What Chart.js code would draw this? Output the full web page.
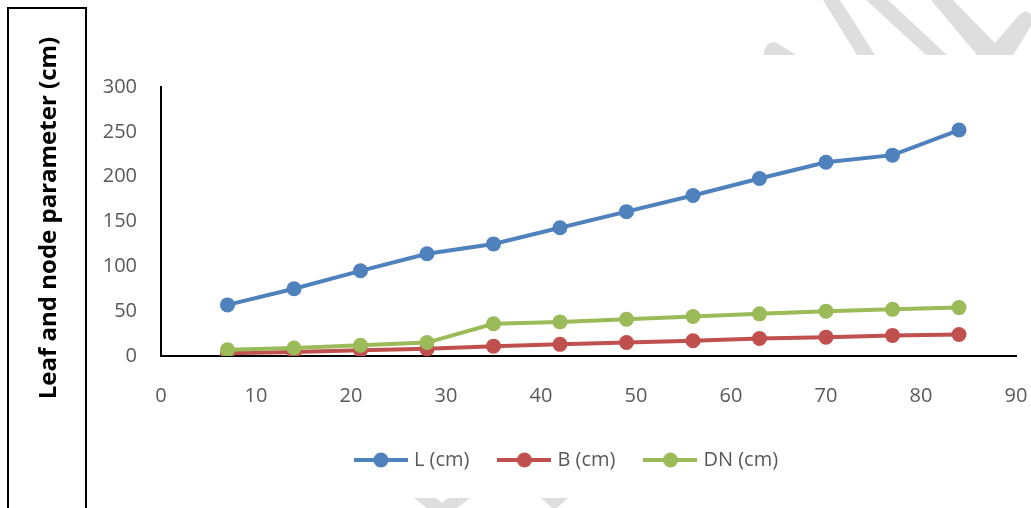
<!DOCTYPE html>
<html>
<head>
<meta charset="utf-8">
<script src="https://cdn.jsdelivr.net/npm/chart.js@4/dist/chart.umd.min.js"></script>
<style>
  html, body { margin: 0; padding: 0; background: #fff; }
  #wrap { width: 1031px; height: 508px; position: relative; }
</style>
</head>
<body>
<div id="wrap"><canvas id="leafChart"></canvas></div>
<script>
// days after sowing
const days = [7, 14, 21, 28, 35, 42, 49, 56, 63, 70, 77, 84];
// leaf length, leaf breadth, distance between nodes (cm)
const leafLength = [57, 75, 95, 114, 125, 143, 161, 179, 198, 216, 224, 252];
const leafBreadth = [3, 4.5, 6.5, 8, 11, 13, 15, 17, 19.5, 21, 23, 24];
const nodeDist = [7, 9, 12, 15, 36, 38, 41, 44, 47, 50, 52, 54];

const seriesNames = ["L (cm)", "B (cm)", "DN (cm)"];
const seriesColors = ["#4F81BD", "#C0504D", "#9BBB59"];
const xTicks = { min: 0, max: 90, step: 10 };
const yTicks = { min: 0, max: 300, step: 50 };
const yTitle = "Leaf and node parameter (cm)";

const tickColor = "#595959";
const fontFamily = "'Open Sans', 'Liberation Sans', sans-serif";

function toPoints(values) {
	return days.map((d, i) => ({ x: d, y: values[i] }));
}

// line-with-marker icon for the legend
function legendIcon(color) {
	const c = document.createElement("canvas");
	c.width = 54;
	c.height = 16;
	const g = c.getContext("2d");
	g.strokeStyle = color;
	g.lineWidth = 4;
	g.beginPath();
	g.moveTo(0, 8);
	g.lineTo(54, 8);
	g.stroke();
	g.fillStyle = color;
	g.beginPath();
	g.arc(27, 8, 7.5, 0, Math.PI * 2);
	g.fill();
	return c;
}

// white page, grey watermark strokes, boxed axis title
const pageDecor = {
	id: "pageDecor",
	afterLayout(chart) {
		// legend sits a little right of the canvas centre
		chart.legend.left += 10;
		chart.legend.right += 10;
	},
	beforeDraw(chart) {
		const ctx = chart.ctx;
		ctx.save();
		ctx.fillStyle = "#fff";
		ctx.fillRect(0, 0, chart.width, chart.height);

		ctx.fillStyle = "#dedede";
		const shapes = [
			[[764, 55], [764, 50], [768, 44], [773, 42], [777, 43], [796, 55]],
			[[823, 0], [840, 0], [875, 55], [857, 55]],
			[[866, 0], [888, 0], [947, 55], [926, 55]],
			[[931, 0], [953, 0], [995, 43], [1020, 14], [1026, 11], [1031, 14], [1031, 26], [1013, 55], [977, 55]],
			[[414, 498], [436, 498], [442, 503], [448, 498], [470, 498], [457, 508], [427, 508]],
			[[541, 498], [568, 498], [557, 508], [552, 508]],
		];
		shapes.forEach((pts) => {
			ctx.beginPath();
			pts.forEach(([x, y], i) => (i ? ctx.lineTo(x, y) : ctx.moveTo(x, y)));
			ctx.closePath();
			ctx.fill();
		});

		ctx.strokeStyle = "#000";
		ctx.lineWidth = 2;
		ctx.strokeRect(8, 8, 78, 520);

		ctx.translate(49, 218);
		ctx.rotate(-Math.PI / 2);
		ctx.fillStyle = "#000";
		ctx.font = "bold 24px " + fontFamily;
		ctx.textAlign = "center";
		ctx.textBaseline = "middle";
		ctx.fillText(yTitle, 0, 0);
		ctx.restore();
	},
};

const datasets = [leafLength, leafBreadth, nodeDist].map((values, i) => ({
	label: seriesNames[i],
	data: toPoints(values),
	borderColor: seriesColors[i],
	backgroundColor: seriesColors[i],
	pointBackgroundColor: seriesColors[i],
	pointBorderWidth: 0,
	pointRadius: 7.5,
	borderWidth: 4,
	tension: 0,
	order: 2 - i,
}));

new Chart(document.getElementById("leafChart"), {
	type: "line",
	data: { datasets },
	options: {
		responsive: true,
		maintainAspectRatio: false,
		animation: false,
		layout: { padding: { left: 100, right: 15, top: 87, bottom: 28 } },
		plugins: {
			tooltip: { enabled: false },
			legend: {
				position: "bottom",
				labels: {
					usePointStyle: true,
					pointStyleWidth: 46,
					padding: 32,
					color: tickColor,
					font: { family: fontFamily, size: 20 },
					sort: (a, b) => a.datasetIndex - b.datasetIndex,
					generateLabels: (chart) =>
						chart.data.datasets.map((ds, i) => ({
							text: ds.label,
							datasetIndex: i,
							pointStyle: legendIcon(ds.borderColor),
							fillStyle: ds.backgroundColor,
							strokeStyle: ds.borderColor,
							fontColor: tickColor,
							lineWidth: 0,
							hidden: false,
						})),
				},
			},
		},
		scales: {
			x: {
				type: "linear",
				min: xTicks.min,
				max: xTicks.max,
				grid: { display: false, drawTicks: false },
				border: { display: true, color: "#000", width: 2 },
				ticks: {
					stepSize: xTicks.step,
					padding: 28,
					color: tickColor,
					font: { family: fontFamily, size: 20 },
					maxRotation: 0,
				},
				afterFit: (scale) => {
					scale.height = 62;
					scale.paddingLeft = 0;
					scale.paddingRight = 0;
				},
			},
			y: {
				min: yTicks.min,
				max: yTicks.max,
				grid: { display: false, drawTicks: false },
				border: { display: true, color: "#000", width: 2 },
				ticks: {
					stepSize: yTicks.step,
					padding: 24,
					color: tickColor,
					font: { family: fontFamily, size: 20 },
				},
				afterFit: (scale) => {
					scale.width = 61;
				},
			},
		},
	},
	plugins: [pageDecor],
});
</script>
</body>
</html>
